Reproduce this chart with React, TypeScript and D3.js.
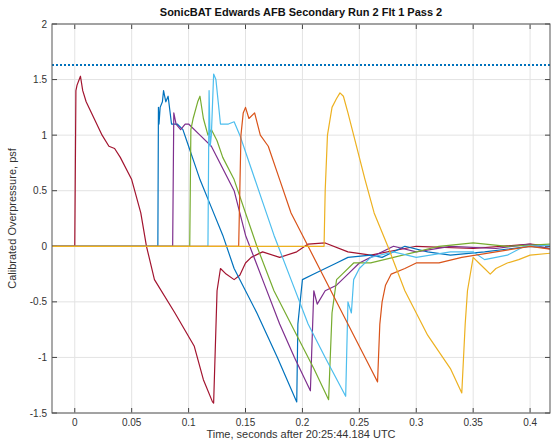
import * as d3 from 'd3';

const title = 'SonicBAT Edwards AFB Secondary Run 2 Flt 1 Pass 2';
const xLabel = 'Time, seconds after 20:25:44.184 UTC';
const yLabel = 'Calibrated Overpressure, psf';
const xTicks = [0, 0.05, 0.1, 0.15, 0.2, 0.25, 0.3, 0.35, 0.4];
const yTicks = [-1.5, -1, -0.5, 0, 0.5, 1, 1.5, 2];
const threshold = 1.63;

// [time, psf]
const red: [number, number][] = [[-0.02,0],[0,0],[0.001,1.4],[0.002,1.45],[0.005,1.53],[0.007,1.4],[0.01,1.3],[0.017,1.15],[0.024,1.0],[0.03,0.9],[0.035,0.88],[0.04,0.8],[0.05,0.6],[0.058,0.3],[0.063,0],[0.07,-0.3],[0.088,-0.6],[0.105,-0.9],[0.113,-1.2],[0.121,-1.4],[0.122,-1.41],[0.125,-0.4],[0.128,-0.2],[0.133,-0.25],[0.14,-0.3],[0.145,-0.26],[0.15,-0.15],[0.155,-0.1],[0.165,-0.05],[0.18,-0.1],[0.195,-0.05],[0.205,0.02],[0.22,0.03],[0.24,-0.05],[0.26,-0.08],[0.3,0],[0.35,-0.02],[0.4,0.02],[0.42,0]];
const blue: [number, number][] = [[-0.02,0],[0.073,0],[0.0735,1.25],[0.074,1.1],[0.075,1.25],[0.077,1.3],[0.078,1.4],[0.08,1.3],[0.082,1.35],[0.085,1.1],[0.09,1.1],[0.095,1.05],[0.1,0.9],[0.105,0.75],[0.11,0.6],[0.12,0.35],[0.13,0.1],[0.14,-0.2],[0.16,-0.6],[0.178,-1.0],[0.195,-1.4],[0.196,-0.7],[0.2,-0.3],[0.21,-0.25],[0.22,-0.2],[0.23,-0.15],[0.24,-0.1],[0.26,-0.08],[0.27,-0.1],[0.29,0],[0.31,-0.05],[0.33,-0.08],[0.36,-0.05],[0.4,0],[0.42,-0.02]];
const purple: [number, number][] = [[-0.02,0],[0.086,0],[0.087,1.2],[0.089,1.1],[0.093,1.05],[0.097,1.1],[0.1,1.1],[0.11,1.0],[0.12,0.9],[0.13,0.7],[0.14,0.5],[0.15,0.1],[0.165,-0.3],[0.18,-0.7],[0.193,-1.0],[0.207,-1.3],[0.21,-0.4],[0.213,-0.52],[0.22,-0.4],[0.23,-0.35],[0.24,-0.25],[0.25,-0.15],[0.26,-0.1],[0.28,0],[0.3,-0.05],[0.33,0],[0.37,-0.02],[0.4,0.02],[0.42,-0.03]];
const green: [number, number][] = [[-0.02,0],[0.101,0],[0.102,1.05],[0.104,1.15],[0.108,1.3],[0.11,1.35],[0.113,1.15],[0.117,1.0],[0.12,1.05],[0.125,0.95],[0.13,0.8],[0.14,0.6],[0.15,0.3],[0.16,0],[0.175,-0.4],[0.195,-0.8],[0.21,-1.1],[0.223,-1.38],[0.226,-0.6],[0.23,-0.3],[0.235,-0.25],[0.245,-0.15],[0.26,-0.15],[0.28,-0.1],[0.3,-0.05],[0.32,0],[0.35,0.03],[0.38,0],[0.42,0.02]];
const cyan: [number, number][] = [[-0.02,0],[0.117,0],[0.118,1.4],[0.119,0.9],[0.12,1.0],[0.122,1.55],[0.124,1.5],[0.126,1.3],[0.128,1.1],[0.135,1.1],[0.14,1.12],[0.145,1.0],[0.155,0.7],[0.165,0.4],[0.175,0.1],[0.19,-0.3],[0.205,-0.7],[0.22,-1.0],[0.238,-1.35],[0.24,-0.5],[0.243,-0.6],[0.245,-0.3],[0.25,-0.2],[0.26,-0.1],[0.28,-0.05],[0.3,-0.1],[0.33,-0.05],[0.35,-0.05],[0.36,-0.12],[0.38,-0.08],[0.395,0],[0.42,0.01]];
const orange: [number, number][] = [[-0.02,0],[0.144,0],[0.146,1.0],[0.148,1.2],[0.15,1.25],[0.153,1.15],[0.158,1.2],[0.163,1.0],[0.17,0.9],[0.18,0.6],[0.19,0.3],[0.205,0],[0.225,-0.4],[0.245,-0.8],[0.26,-1.1],[0.266,-1.22],[0.268,-0.7],[0.27,-0.5],[0.273,-0.35],[0.278,-0.25],[0.29,-0.2],[0.3,-0.15],[0.32,-0.15],[0.34,-0.1],[0.37,-0.05],[0.4,0],[0.42,-0.03]];
const yellow: [number, number][] = [[-0.02,0],[0.219,0],[0.22,0.5],[0.222,1.0],[0.226,1.25],[0.23,1.33],[0.233,1.38],[0.236,1.35],[0.24,1.2],[0.245,1.0],[0.255,0.6],[0.263,0.3],[0.275,0],[0.29,-0.4],[0.31,-0.8],[0.33,-1.1],[0.34,-1.32],[0.343,-0.7],[0.345,-0.4],[0.35,-0.1],[0.355,-0.15],[0.36,-0.2],[0.365,-0.25],[0.37,-0.2],[0.38,-0.15],[0.39,-0.12],[0.4,-0.08],[0.42,-0.06]];

const series = [
  { data: red, color: '#A2142F' },
  { data: blue, color: '#0072BD' },
  { data: purple, color: '#7E2F8E' },
  { data: green, color: '#77AC30' },
  { data: cyan, color: '#4DBEEE' },
  { data: orange, color: '#D95319' },
  { data: yellow, color: '#EDB120' },
];

const W = 558, H = 447;
const m = { left: 52, right: 8, top: 24, bottom: 34 };

export default function App() {
  const x = d3.scaleLinear().domain([-0.02, 0.4175]).range([m.left, W - m.right]);
  const y = d3.scaleLinear().domain([-1.5, 2]).range([H - m.bottom, m.top]);
  const line = d3.line<[number, number]>().x(d => x(d[0])).y(d => y(d[1]));
  const [x0, x1] = x.range();
  const [y0, y1] = y.range();
  const font = 'Liberation Sans, Arial, sans-serif';
  return (
    <svg width={W} height={H} style={{ position: 'absolute', left: 0, top: 0, background: '#fff' }} fontFamily={font}>
      <defs>
        <clipPath id="plot"><rect x={x0} y={y1} width={x1 - x0} height={y0 - y1} /></clipPath>
      </defs>
      {xTicks.map(t => (
        <g key={'x' + t}>
          <line x1={x(t)} x2={x(t)} y1={y0} y2={y1} stroke="#e3e3e3" />
          <line x1={x(t)} x2={x(t)} y1={y0} y2={y0 - 5} stroke="#444" />
          <line x1={x(t)} x2={x(t)} y1={y1} y2={y1 + 5} stroke="#444" />
          <text x={x(t)} y={y0 + 13} fontSize={10} fill="#333" textAnchor="middle">{t}</text>
        </g>
      ))}
      {yTicks.map(t => (
        <g key={'y' + t}>
          <line x1={x0} x2={x1} y1={y(t)} y2={y(t)} stroke="#e3e3e3" />
          <line x1={x0} x2={x0 + 5} y1={y(t)} y2={y(t)} stroke="#444" />
          <line x1={x1} x2={x1 - 5} y1={y(t)} y2={y(t)} stroke="#444" />
          <text x={x0 - 5} y={y(t) + 3.5} fontSize={10} fill="#333" textAnchor="end">{t}</text>
        </g>
      ))}
      <g clipPath="url(#plot)">
        <line x1={x0} x2={x1} y1={y(threshold)} y2={y(threshold)} stroke="#0072BD" strokeWidth={2} strokeDasharray="2,2" />
        {series.map((s, i) => (
          <path key={i} d={line(s.data) || ''} fill="none" stroke={s.color} strokeWidth={1.2} strokeLinejoin="round" />
        ))}
      </g>
      <rect x={x0} y={y1} width={x1 - x0} height={y0 - y1} fill="none" stroke="#555" />
      <text x={(x0 + x1) / 2} y={16} fontSize={11} fontWeight="bold" textAnchor="middle" fill="#111">{title}</text>
      <text x={(x0 + x1) / 2} y={y0 + 25} fontSize={11} textAnchor="middle" fill="#333">{xLabel}</text>
      <text transform={`translate(16,${(y0 + y1) / 2}) rotate(-90)`} fontSize={11} textAnchor="middle" fill="#333">{yLabel}</text>
    </svg>
  );
}
